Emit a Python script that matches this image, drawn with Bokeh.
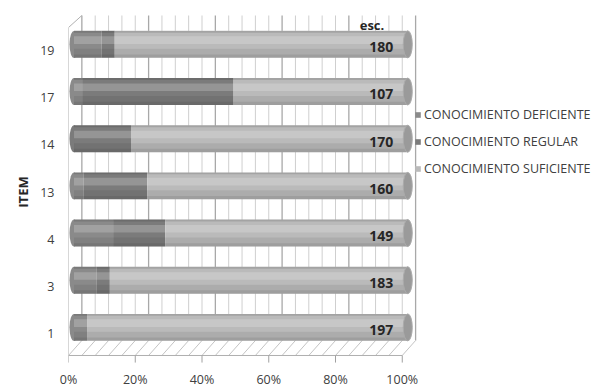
from bokeh.plotting import figure
from bokeh.models import Range1d, FixedTicker, PrintfTickFormatter, ColumnDataSource, Legend, LegendItem, Label
from bokeh.embed import file_html
from bokeh.resources import INLINE
from bokeh.core.properties import value

# ---------------- data ----------------
items = ["1", "3", "4", "13", "14", "17", "19"]
deficiente = [8, 14, 24, 6, 0, 5, 17]
regular = [0, 8, 32, 39, 35, 93, 8]
suficiente = [197, 183, 149, 160, 170, 107, 180]
x_ticks = [0, 20, 40, 60, 80, 100]
series_names = ["CONOCIMIENTO DEFICIENTE", "CONOCIMIENTO REGULAR", "CONOCIMIENTO SUFICIENTE"]
label_header = "esc."
axis_title = "ITEM"

# ---------------- style ----------------
FONT = "Open Sans"
TXT = "#404040"
COLORS = ["#8a8a8a", "#7b7b7b", "#bababa"]
BAR_DX = 1.65     # 3D depth shift of the bars (x units)
BAR_DY = 0.13     # 3D depth shift of the bars (y units)
WALL_DX = 4.0     # back wall shift (x units)
FLOOR_FRONT = -0.466
FLOOR_BACK = -0.148
WALL_TOP = 6.742
LEFT_TOP = 6.487
BAR_H = 0.572

pos = list(range(len(items)))
totals = [d + r + s for d, r, s in zip(deficiente, regular, suficiente)]
pd_ = [100.0 * d / t for d, t in zip(deficiente, totals)]
pr_ = [100.0 * r / t for r, t in zip(regular, totals)]
ps_ = [100.0 * s / t for s, t in zip(suficiente, totals)]
bar_y = [i + BAR_DY for i in pos]

p = figure(width=597, height=390, x_range=Range1d(0, 158.5), y_range=Range1d(-0.763, 6.763),
           min_border_left=68, min_border_right=0, min_border_top=14, min_border_bottom=18,
           output_backend="svg", toolbar_location=None, title=None)
p.grid.visible = False
p.outline_line_color = None
p.background_fill_color = "white"
p.border_fill_color = "white"

# ---------------- 3D walls and floor ----------------
grid_x = [WALL_DX + v for v in range(0, 101, 4)]
minor_x = [g for g, v in zip(grid_x, range(0, 101, 4)) if v % 20 != 0]
major_x = [g for g, v in zip(grid_x, range(0, 101, 4)) if v % 20 == 0]
p.segment(x0=minor_x, y0=[FLOOR_BACK] * len(minor_x), x1=minor_x, y1=[WALL_TOP] * len(minor_x),
          line_color="#cfcfcf", line_width=1)
p.segment(x0=major_x, y0=[FLOOR_BACK] * len(major_x), x1=major_x, y1=[WALL_TOP] * len(major_x),
          line_color="#a8a8a8", line_width=1.3)
# floor hatch
p.segment(x0=grid_x, y0=[FLOOR_BACK] * len(grid_x), x1=[g - WALL_DX for g in grid_x],
          y1=[FLOOR_FRONT] * len(grid_x), line_color="#c4c4c4", line_width=1)
# front floor edge, left wall edge
p.segment(x0=[0, 0, 0], y0=[FLOOR_FRONT, FLOOR_FRONT, LEFT_TOP], x1=[100, 0, WALL_DX],
          y1=[FLOOR_FRONT, LEFT_TOP, WALL_TOP], line_color="#b0b0b0", line_width=1)
# front ticks
p.segment(x0=x_ticks, y0=[FLOOR_FRONT] * len(x_ticks), x1=x_ticks, y1=[FLOOR_FRONT - 0.15] * len(x_ticks),
          line_color="#a0a0a0", line_width=1)

# ---------------- bars (cylinders) ----------------
first_color = []
for d, r in zip(deficiente, regular):
    first_color.append(COLORS[0] if d > 0 else (COLORS[1] if r > 0 else COLORS[2]))
p.ellipse(x=[BAR_DX] * len(pos), y=bar_y, width=2.7, height=BAR_H,
          fill_color=first_color, line_color=None)

src = ColumnDataSource(dict(
    y=bar_y,
    l0=[BAR_DX] * len(pos),
    r0=[BAR_DX + a for a in pd_],
    r1=[BAR_DX + a + b for a, b in zip(pd_, pr_)],
    r2=[BAR_DX + a + b + c for a, b, c in zip(pd_, pr_, ps_)],
))
r_def = p.hbar(y="y", left="l0", right="r0", height=BAR_H, source=src, fill_color=COLORS[0], line_color=None)
r_reg = p.hbar(y="y", left="r0", right="r1", height=BAR_H, source=src, fill_color=COLORS[1], line_color=None)
r_suf = p.hbar(y="y", left="r1", right="r2", height=BAR_H, source=src, fill_color=COLORS[2], line_color=None)

# cylinder shading overlays
p.hbar(y=[y + 0.09 for y in bar_y], left=BAR_DX, right=src.data["r2"], height=0.16,
       fill_color="white", fill_alpha=0.2, line_color=None)
p.hbar(y=[y - 0.19 for y in bar_y], left=BAR_DX, right=src.data["r2"], height=0.19,
       fill_color="black", fill_alpha=0.07, line_color=None)
p.hbar(y=[y - 0.25 for y in bar_y], left=BAR_DX, right=src.data["r2"], height=0.07,
       fill_color="black", fill_alpha=0.08, line_color=None)
p.hbar(y=[y + 0.265 for y in bar_y], left=BAR_DX, right=src.data["r2"], height=0.04,
       fill_color="black", fill_alpha=0.12, line_color=None)
# right end face
p.ellipse(x=src.data["r2"], y=bar_y, width=2.7, height=BAR_H,
          fill_color="#9a9a9a", line_color="#ababab", line_width=1)

# data labels
p.text(x=[97.3] * len(pos), y=[y - 0.06 for y in bar_y], text=[str(s) for s in suficiente],
       text_align="right", text_baseline="middle", text_font=value(FONT), text_font_style="bold",
       text_font_size="14px", text_color="#262626")
p.add_layout(Label(x=94.6, y=bar_y[-1] + 0.40, text=label_header, text_align="right",
                   text_baseline="middle", text_font=FONT, text_font_style="bold",
                   text_font_size="13px", text_color="#262626"))

# ---------------- axes ----------------
xa = p.xaxis[0]
xa.ticker = FixedTicker(ticks=x_ticks)
xa.formatter = PrintfTickFormatter(format="%d%%")
xa.axis_line_color = None
xa.major_tick_line_color = None
xa.minor_tick_line_color = None
xa.major_tick_out = 0
xa.major_tick_in = 0
xa.minor_tick_out = 0
xa.major_label_standoff = 1
xa.major_label_text_font = FONT
xa.major_label_text_font_size = "12.5px"
xa.major_label_text_color = TXT

ya = p.yaxis[0]
ya.ticker = FixedTicker(ticks=pos)
ya.major_label_overrides = {i: items[i] for i in pos}
ya.axis_line_color = None
ya.major_tick_line_color = None
ya.minor_tick_line_color = None
ya.major_tick_out = 0
ya.major_tick_in = 0
ya.minor_tick_out = 0
ya.major_label_standoff = 14
ya.major_label_text_font = FONT
ya.major_label_text_font_size = "12.5px"
ya.major_label_text_color = TXT
ya.axis_label = axis_title
ya.axis_label_text_font = FONT
ya.axis_label_text_font_style = "bold"
ya.axis_label_text_font_size = "13px"
ya.axis_label_text_color = "#262626"
ya.axis_label_standoff = 5

# ---------------- legend ----------------
legend = Legend(items=[LegendItem(label=series_names[0], renderers=[r_def]),
                       LegendItem(label=series_names[1], renderers=[r_reg]),
                       LegendItem(label=series_names[2], renderers=[r_suf])],
                location=(346, 192), orientation="vertical",
                glyph_width=7, glyph_height=7, label_height=13, spacing=10,
                label_standoff=3, padding=0, margin=0,
                border_line_color=None, background_fill_alpha=0,
                label_text_font=FONT, label_text_font_size="12.5px", label_text_color=TXT)
p.add_layout(legend)

open("out.html", "w").write(file_html(p, INLINE))
